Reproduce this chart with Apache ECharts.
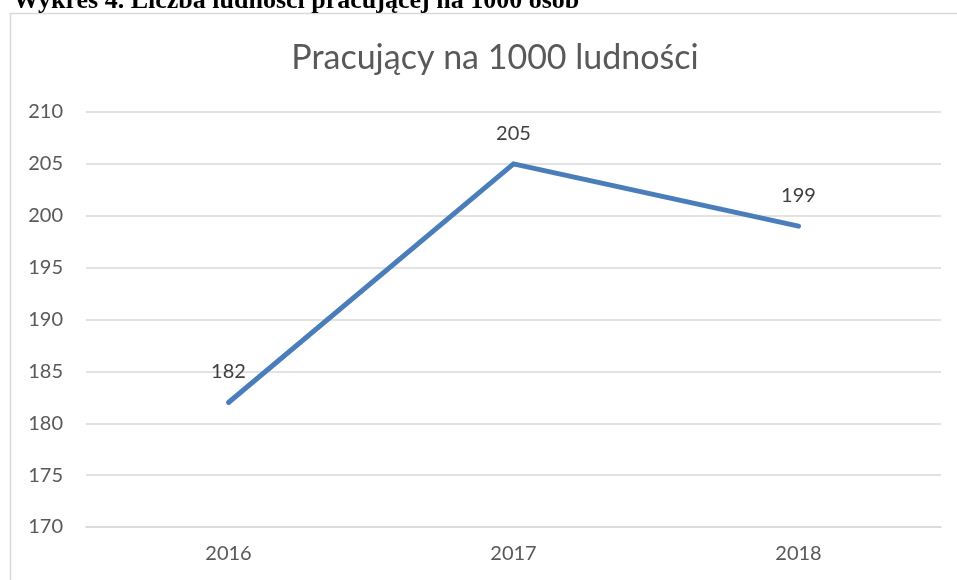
<!DOCTYPE html>
<html><head><meta charset="utf-8">
<script src="https://cdn.jsdelivr.net/npm/echarts@6/dist/echarts.min.js"></script>
<style>html,body{margin:0;padding:0;background:#fff;}#c{width:957px;height:580px;}</style>
</head><body><div id="c"></div>
<script>
const categories = ['2016', '2017', '2018'];
const values = [182, 205, 199];
const yTicks = { min: 170, max: 210, step: 5 };
const chartTitle = 'Pracujący na 1000 ludności';
const heading = 'Wykres 4. Liczba ludności pracującej na 1000 osób';

const chart = echarts.init(document.getElementById('c'), null, { renderer: 'canvas' });
const font = 'Lato, "Open Sans", sans-serif';
chart.setOption({
  animation: false,
  backgroundColor: '#fff',
  graphic: [
    { type: 'rect', shape: { x: 10.5, y: 13.5, width: 960, height: 600 }, style: { fill: 'none', stroke: '#d9d9d9', lineWidth: 1.5 }, z: 0 },
    { type: 'text', left: 13, top: -12, style: { text: heading, font: 'bold 26px "Liberation Serif", serif', fill: '#000' }, z: 10 }
  ],
  title: {
    text: chartTitle, left: 490, top: 36, textAlign: 'center',
    textStyle: { fontFamily: font, fontSize: 34, fontWeight: 'normal', color: '#595959' }
  },
  grid: { left: 86, right: 16, top: 112, bottom: 53 },
  xAxis: {
    type: 'category', data: categories, boundaryGap: true,
    axisLine: { show: true, lineStyle: { color: '#d9d9d9', width: 1.5 } },
    axisTick: { show: false },
    axisLabel: { fontFamily: font, fontSize: 20, color: '#595959', margin: 17 }
  },
  yAxis: {
    type: 'value', min: yTicks.min, max: yTicks.max, interval: yTicks.step,
    axisLine: { show: false }, axisTick: { show: false },
    splitLine: { lineStyle: { color: '#d9d9d9', width: 1.5 } },
    axisLabel: { fontFamily: font, fontSize: 20, color: '#595959', margin: 23 }
  },
  series: [{
    type: 'line', data: values, symbol: 'circle', symbolSize: 1, showSymbol: true,
    itemStyle: { color: 'rgba(0,0,0,0)' },
    lineStyle: { color: '#4a7ebb', width: 5, cap: 'round', join: 'round' },
    label: { show: true, position: 'top', distance: 20, fontFamily: font, fontSize: 20, color: '#404040' }
  }]
});
</script></body></html>
